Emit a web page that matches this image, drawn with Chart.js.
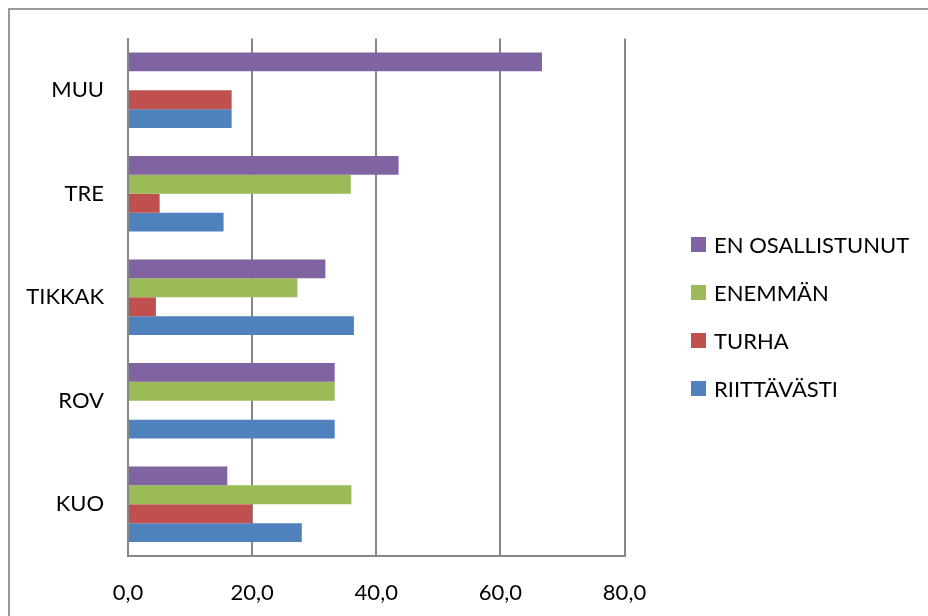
<!DOCTYPE html>
<html>
<head>
<meta charset="utf-8">
<script src="https://cdn.jsdelivr.net/npm/chart.js@4/dist/chart.umd.min.js"></script>
<style>
  html, body { margin: 0; padding: 0; background: #fff; }
  #wrap { position: relative; width: 928px; height: 616px; overflow: hidden; }
  #frame { position: absolute; left: 8px; top: 8px; width: 940px; height: 640px;
           border-top: 2px solid #9a9a9a; border-left: 2px solid #9a9a9a; }
  #chart { position: absolute; left: 0; top: 0; }
  #legend { position: absolute; left: 691px; top: 0; font-family: Lato, sans-serif;
            font-size: 22px; color: #000; }
  .item { position: absolute; left: 0; height: 30px; display: flex; align-items: center;
          white-space: nowrap; }
  .sw { width: 15px; height: 15px; margin-right: 8px; flex: none; }
</style>
</head>
<body>
<div id="wrap">
  <div id="frame"></div>
  <canvas id="chart" width="928" height="616"></canvas>
  <div id="legend"></div>
</div>
<script>
// Survey answers per location, percent of respondents
const categories = ['MUU', 'TRE', 'TIKKAK', 'ROV', 'KUO'];
const enOsallistunut = [66.7, 43.6, 31.8, 33.3, 16.0];
const enemman = [0, 35.9, 27.3, 33.3, 36.0];
const turha = [16.7, 5.1, 4.5, 0, 20.0];
const riittavasti = [16.7, 15.4, 36.4, 33.3, 28.0];

const seriesNames = ['EN OSALLISTUNUT', 'ENEMMÄN', 'TURHA', 'RIITTÄVÄSTI'];
const seriesColors = ['#8064A2', '#9BBB59', '#C0504D', '#4F81BD'];
const xTicks = [0, 20, 40, 60, 80];

const FONT = 'Lato, sans-serif';
const GRID = '#878787';

const datasets = [enOsallistunut, enemman, turha, riittavasti].map((vals, i) => ({
  label: seriesNames[i],
  data: vals,
  backgroundColor: seriesColors[i],
  borderWidth: 0,
  categoryPercentage: 0.73,
  barPercentage: 1.0
}));

const chart = new Chart(document.getElementById('chart'), {
  type: 'bar',
  data: { labels: categories, datasets },
  options: {
    indexAxis: 'y',
    responsive: false,
    animation: false,
    devicePixelRatio: 1,
    layout: { padding: { top: 38.5, right: 303.5, bottom: 0, left: 0 } },
    plugins: { legend: { display: false }, tooltip: { enabled: false } },
    scales: {
      x: {
        min: xTicks[0],
        max: xTicks[xTicks.length - 1],
        afterBuildTicks: (scale) => { scale.ticks = xTicks.map(v => ({ value: v })); },
        afterFit: (scale) => { scale.height = 60; },
        grid: { color: GRID, lineWidth: 2, drawTicks: false },
        border: { display: true, color: GRID, width: 2 },
        ticks: {
          padding: 24,
          color: '#000',
          font: { family: FONT, size: 22 },
          callback: (v) => Number(v).toFixed(1).replace('.', ',')
        }
      },
      y: {
        afterFit: (scale) => { scale.width = 128; },
        grid: { display: false },
        border: { display: true, color: GRID, width: 2 },
        ticks: { padding: 16, color: '#000', font: { family: FONT, size: 22 } }
      }
    }
  }
});

// Legend built from the chart's datasets
const legendCenters = [244, 292, 340, 388];
const legend = document.getElementById('legend');
chart.data.datasets.forEach((ds, i) => {
  const item = document.createElement('div');
  item.className = 'item';
  item.style.top = (legendCenters[i] - 15) + 'px';
  const sw = document.createElement('span');
  sw.className = 'sw';
  sw.style.background = ds.backgroundColor;
  const tx = document.createElement('span');
  tx.textContent = ds.label;
  item.appendChild(sw);
  item.appendChild(tx);
  legend.appendChild(item);
});
</script>
</body>
</html>
